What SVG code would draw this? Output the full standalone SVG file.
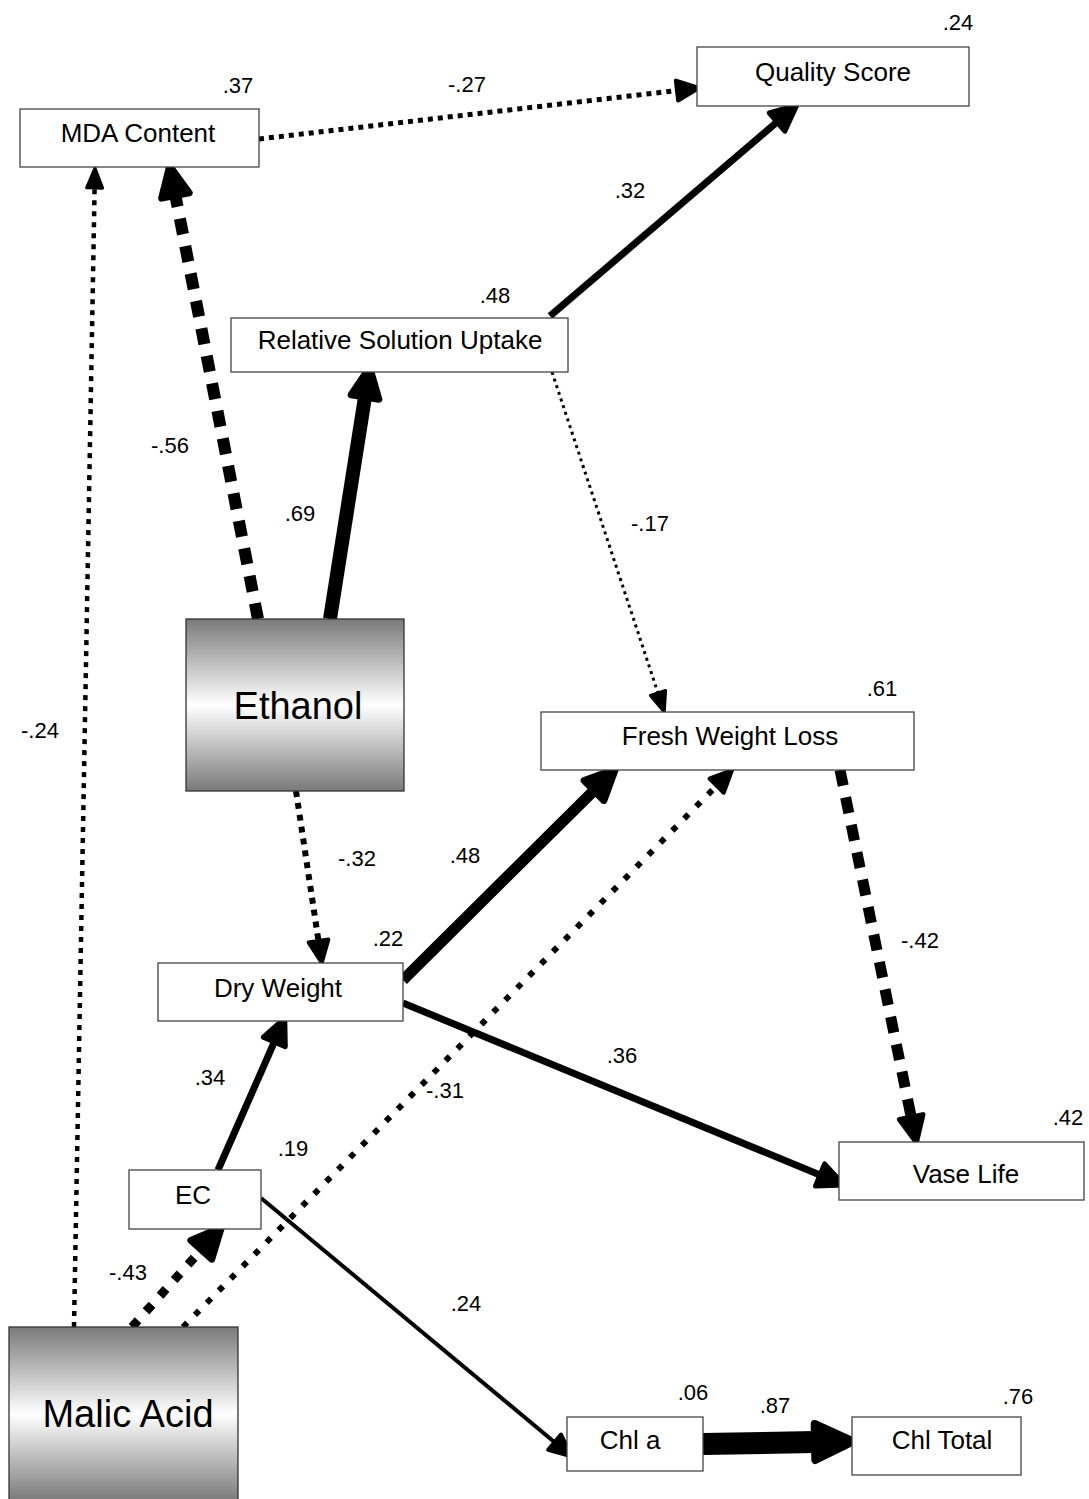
<svg xmlns="http://www.w3.org/2000/svg" width="1089" height="1499" viewBox="0 0 1089 1499">
<defs>
<style>
.box{fill:#fff;stroke:#444;stroke-width:1.3}
.grad{fill:url(#g);stroke:#333;stroke-width:1.3}
.nt{font-family:"Liberation Sans",Arial,sans-serif;font-size:26px;text-anchor:middle;fill:#000}
.big{font-family:"Liberation Sans",Arial,sans-serif;font-size:38px;text-anchor:middle;fill:#000}
.lb{font-family:"Liberation Sans",Arial,sans-serif;font-size:22px;text-anchor:middle;fill:#000}
.c{fill:none;stroke:#000;stroke-linecap:butt}
</style>
<linearGradient id="g" x1="0" y1="0" x2="0" y2="1">
<stop offset="0" stop-color="#7a7a7a"/>
<stop offset="0.5" stop-color="#ffffff"/>
<stop offset="1" stop-color="#7a7a7a"/>
</linearGradient>
<marker id="a16" markerUnits="userSpaceOnUse" viewBox="-2 -10 24 20" refX="0" refY="0" markerWidth="24" markerHeight="20" orient="auto" overflow="visible">
<path d="M0,-8 L20,0 L0,8 Z" fill="#000" stroke="#000" stroke-width="3" stroke-linejoin="round"/>
</marker>
<marker id="a20" markerUnits="userSpaceOnUse" viewBox="-2 -12 26 24" refX="0" refY="0" markerWidth="26" markerHeight="24" orient="auto" overflow="visible">
<path d="M0,-10 L22,0 L0,10 Z" fill="#000" stroke="#000" stroke-width="4" stroke-linejoin="round"/>
</marker>
<marker id="a24" markerUnits="userSpaceOnUse" viewBox="-2 -14 30 28" refX="0" refY="0" markerWidth="30" markerHeight="28" orient="auto" overflow="visible">
<path d="M0,-12 L26,0 L0,12 Z" fill="#000" stroke="#000" stroke-width="5" stroke-linejoin="round"/>
</marker>
<marker id="a30" markerUnits="userSpaceOnUse" viewBox="-2 -17 36 34" refX="0" refY="0" markerWidth="36" markerHeight="34" orient="auto" overflow="visible">
<path d="M0,-14 L30,0 L0,14 Z" fill="#000" stroke="#000" stroke-width="7" stroke-linejoin="round"/>
</marker>
<marker id="a40" markerUnits="userSpaceOnUse" viewBox="-2 -22 46 44" refX="0" refY="0" markerWidth="46" markerHeight="44" orient="auto" overflow="visible">
<path d="M0,-18 L38,0 L0,18 Z" fill="#000" stroke="#000" stroke-width="8" stroke-linejoin="round"/>
</marker>
</defs>
<rect width="1089" height="1499" fill="#fff"/>

<g id="connectors">
<!-- MDA -> Quality -->
<line class="c" x1="259" y1="139" x2="677" y2="90.5" stroke-width="5" stroke-dasharray="5 5" marker-end="url(#a20)"/>
<!-- RSU -> Quality -->
<line class="c" x1="550" y1="316" x2="777" y2="122" stroke-width="7" marker-end="url(#a24)"/>
<!-- Ethanol -> MDA -->
<line class="c" x1="258" y1="619" x2="175.4" y2="195.5" stroke-width="12" stroke-dasharray="16 12" marker-end="url(#a30)"/>
<!-- Ethanol -> RSU -->
<line class="c" x1="330" y1="619" x2="365" y2="397" stroke-width="14" marker-end="url(#a30)"/>
<!-- Malic -> MDA -->
<line class="c" x1="74" y1="1327" x2="94.6" y2="188" stroke-width="4.5" stroke-dasharray="5 6" marker-end="url(#a16)"/>
<!-- RSU -> FWL -->
<line class="c" x1="552" y1="372" x2="658" y2="693" stroke-width="3" stroke-dasharray="3 4" marker-end="url(#a16)"/>
<!-- Ethanol -> Dry Weight -->
<line class="c" x1="296" y1="791" x2="318.5" y2="941" stroke-width="6" stroke-dasharray="6 6" marker-end="url(#a20)"/>
<!-- Dry Weight -> FWL -->
<line class="c" x1="403" y1="980" x2="594" y2="790.5" stroke-width="11" marker-end="url(#a30)"/>
<!-- Malic -> FWL -->
<line class="c" x1="183" y1="1327" x2="716.6" y2="785.7" stroke-width="6" stroke-dasharray="6 11" marker-end="url(#a20)"/>
<!-- Dry Weight -> Vase Life -->
<line class="c" x1="403" y1="1003" x2="820" y2="1175" stroke-width="7" marker-end="url(#a24)"/>
<!-- FWL -> Vase Life -->
<line class="c" x1="840" y1="770" x2="911.2" y2="1117" stroke-width="11" stroke-dasharray="16 12" marker-end="url(#a24)"/>
<!-- EC -> Dry Weight -->
<line class="c" x1="218" y1="1170" x2="274.3" y2="1042" stroke-width="7" marker-end="url(#a24)"/>
<!-- Malic -> EC -->
<line class="c" x1="132" y1="1327" x2="201.3" y2="1249.8" stroke-width="9" stroke-dasharray="9 12" marker-end="url(#a30)"/>
<!-- EC -> Chl a -->
<line class="c" x1="261" y1="1198" x2="554.6" y2="1442.2" stroke-width="4" marker-end="url(#a20)"/>
<!-- Chl a -> Chl Total -->
<line class="c" x1="703" y1="1444" x2="815" y2="1442" stroke-width="22" marker-end="url(#a40)"/>
</g>

<g id="node-mda"><rect class="box" x="20" y="109" width="239" height="58"/><text class="nt" x="138" y="142">MDA Content</text></g>
<g id="node-quality"><rect class="box" x="697" y="47" width="272" height="59"/><text class="nt" x="833" y="81">Quality Score</text></g>
<g id="node-rsu"><rect class="box" x="231" y="318" width="337" height="54"/><text class="nt" x="400" y="349">Relative Solution Uptake</text></g>
<g id="node-ethanol"><rect class="grad" x="186" y="619" width="218" height="172"/><text class="big" x="298" y="719">Ethanol</text></g>
<g id="node-fwl"><rect class="box" x="541" y="712" width="373" height="58"/><text class="nt" x="730" y="745">Fresh Weight Loss</text></g>
<g id="node-dw"><rect class="box" x="158" y="963" width="245" height="58"/><text class="nt" x="278" y="997">Dry Weight</text></g>
<g id="node-ec"><rect class="box" x="129" y="1170" width="132" height="59"/><text class="nt" x="193" y="1204">EC</text></g>
<g id="node-vase"><rect class="box" x="839" y="1142" width="245" height="58"/><text class="nt" x="966" y="1183">Vase Life</text></g>
<g id="node-malic"><rect class="grad" x="9" y="1327" width="229" height="174"/><text class="big" x="128" y="1427">Malic Acid</text></g>
<g id="node-chla"><rect class="box" x="567" y="1417" width="136" height="54"/><text class="nt" x="630" y="1449">Chl a</text></g>
<g id="node-chltotal"><rect class="box" x="852" y="1417" width="169" height="58"/><text class="nt" x="942" y="1449">Chl Total</text></g>

<g id="labels">
<text class="lb" x="958" y="30">.24</text>
<text class="lb" x="238" y="93">.37</text>
<text class="lb" x="467" y="92">-.27</text>
<text class="lb" x="630" y="198">.32</text>
<text class="lb" x="495" y="303">.48</text>
<text class="lb" x="170" y="453">-.56</text>
<text class="lb" x="300" y="521">.69</text>
<text class="lb" x="650" y="531">-.17</text>
<text class="lb" x="40" y="738">-.24</text>
<text class="lb" x="882" y="696">.61</text>
<text class="lb" x="357" y="866">-.32</text>
<text class="lb" x="465" y="863">.48</text>
<text class="lb" x="388" y="946">.22</text>
<text class="lb" x="920" y="948">-.42</text>
<text class="lb" x="622" y="1063">.36</text>
<text class="lb" x="210" y="1085">.34</text>
<text class="lb" x="445" y="1098">-.31</text>
<text class="lb" x="293" y="1156">.19</text>
<text class="lb" x="1068" y="1125">.42</text>
<text class="lb" x="128" y="1280">-.43</text>
<text class="lb" x="466" y="1311">.24</text>
<text class="lb" x="693" y="1400">.06</text>
<text class="lb" x="775" y="1413">.87</text>
<text class="lb" x="1018" y="1404">.76</text>
</g>
</svg>
